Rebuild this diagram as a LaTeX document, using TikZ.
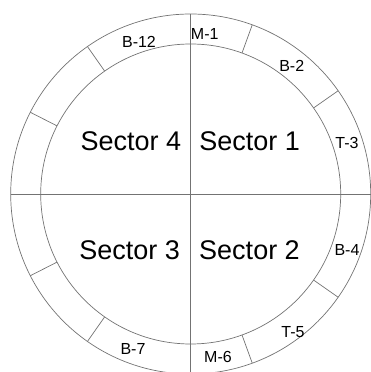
\documentclass[tikz,border=0pt]{standalone}
\usepackage{fontspec}
\setmainfont{Liberation Sans}
\begin{document}
\begin{tikzpicture}[x=1pt,y=1pt,line width=0.7pt,
  ring/.style={black!55},
  small/.style={font=\fontsize{16}{16}\selectfont,inner sep=0pt,text height=11.5pt,text depth=0pt},
  big/.style={font=\fontsize{27}{27}\selectfont,inner sep=0pt,text height=19.4pt,text depth=0pt}]
  \useasboundingbox (0,0) rectangle (371,372);
  \coordinate (O) at (190.7,178);

  % 直径端点
  \coordinate (N) at ([shift={(90:180pt)}]O);
  \coordinate (S) at ([shift={(-90:180pt)}]O);
  \coordinate (W) at ([shift={(180:180pt)}]O);
  \coordinate (E) at ([shift={(0:180pt)}]O);

  % 分隔线端点（内圆 P，外圆 Q）
  \coordinate (P1) at ([shift={(70:150pt)}]O);
  \coordinate (Q1) at ([shift={(70:180pt)}]O);
  \coordinate (P2) at ([shift={(35:150pt)}]O);
  \coordinate (Q2) at ([shift={(35:180pt)}]O);
  \coordinate (P3) at ([shift={(-35:150pt)}]O);
  \coordinate (Q3) at ([shift={(-35:180pt)}]O);
  \coordinate (P4) at ([shift={(-70:150pt)}]O);
  \coordinate (Q4) at ([shift={(-70:180pt)}]O);
  \coordinate (P5) at ([shift={(235:150pt)}]O);
  \coordinate (Q5) at ([shift={(235:180pt)}]O);
  \coordinate (P6) at ([shift={(207:150pt)}]O);
  \coordinate (Q6) at ([shift={(207:180pt)}]O);
  \coordinate (P7) at ([shift={(153:150pt)}]O);
  \coordinate (Q7) at ([shift={(153:180pt)}]O);
  \coordinate (P8) at ([shift={(125:150pt)}]O);
  \coordinate (Q8) at ([shift={(125:180pt)}]O);

  % 圆环与直径
  \draw[ring] (O) circle[radius=180pt];
  \draw[ring] (O) circle[radius=150pt];
  \draw[ring] (N) -- (S);
  \draw[ring] (W) -- (E);

  % 分隔线
  \draw[ring] (P1) -- (Q1);
  \draw[ring] (P2) -- (Q2);
  \draw[ring] (P3) -- (Q3);
  \draw[ring] (P4) -- (Q4);
  \draw[ring] (P5) -- (Q5);
  \draw[ring] (P6) -- (Q6);
  \draw[ring] (P7) -- (Q7);
  \draw[ring] (P8) -- (Q8);

  % 环上标注
  \node[small] (m1) at (204.7,338) {M-1};
  \node[small] (b12) at (139,330.5) {B-12};
  \node[small] (b2) at (291.7,306) {B-2};
  \node[small] (t3) at (347,229.5) {T-3};
  \node[small] (b4) at (347,122.5) {B-4};
  \node[small] (t5) at (293,40.7) {T-5};
  \node[small] (m6) at (218,15.3) {M-6};
  \node[small] (b7) at (133,23.5) {B-7};

  % 扇区标注
  \node[big] (s1) at (249.6,230.8) {Sector 1};
  \node[big] (s2) at (249.5,121.8) {Sector 2};
  \node[big] (s3) at (129.7,121.8) {Sector 3};
  \node[big] (s4) at (130.8,230.8) {Sector 4};
\end{tikzpicture}
\end{document}
